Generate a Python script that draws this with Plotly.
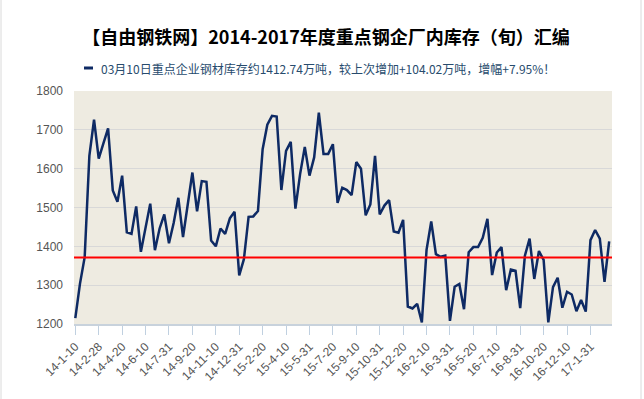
import calendar
import plotly.graph_objects as go

# ---- data -------------------------------------------------------------
# dekad (旬) dates from 2014-01-10 to 2017-03-10
dates = []
for yr in range(2014, 2018):
    for mo in range(1, 13):
        for d in (10, 20, calendar.monthrange(yr, mo)[1]):
            dates.append(f"{yr % 100}-{mo}-{d}")
dates = dates[:dates.index("17-3-10") + 1]

inventory = [
    1215, 1304, 1372, 1633, 1726, 1626, 1665, 1704, 1544, 1515,
    1582, 1436, 1432, 1503, 1386, 1450, 1510, 1390, 1446, 1482,
    1408, 1460, 1525, 1424, 1507, 1590, 1490, 1568, 1566, 1415,
    1400, 1446, 1432, 1472, 1489, 1325, 1367, 1476, 1477, 1491,
    1650, 1713, 1736, 1734, 1545, 1646, 1669, 1497, 1586, 1656,
    1582, 1629, 1744, 1638, 1638, 1663, 1512, 1551, 1545, 1532,
    1617, 1600, 1480, 1508, 1633, 1482, 1505, 1519, 1438, 1435,
    1468, 1245, 1240, 1252, 1204, 1391, 1464, 1380, 1373, 1376,
    1208, 1296, 1303, 1238, 1385, 1398, 1398, 1422, 1471, 1326,
    1384, 1398, 1287, 1340, 1337, 1241, 1376, 1420, 1316, 1388,
    1365, 1204, 1295, 1319, 1242, 1283, 1276, 1233, 1262, 1232,
    1416, 1442, 1420, 1308.72, 1412.74,
]
avg_level = 1371

tick_labels = [
    "14-1-10", "14-2-28", "14-4-20", "14-6-10", "14-7-31", "14-9-20",
    "14-11-10", "14-12-31", "15-2-20", "15-4-10", "15-5-31", "15-7-20",
    "15-9-10", "15-10-31", "15-12-20", "16-2-10", "16-3-31", "16-5-20",
    "16-7-10", "16-8-31", "16-10-20", "16-12-10", "17-1-31",
]
y_ticks = [1200, 1300, 1400, 1500, 1600, 1700, 1800]

title_text = "【自由钢铁网】2014-2017年度重点钢企厂内库存（旬）汇编"
legend_text = "03月10日重点企业钢材库存约1412.74万吨，较上次增加+104.02万吨，增幅+7.95%！"

# ---- figure -----------------------------------------------------------
W, H = 644, 399
L, R, T, B = 74, 612, 91, 324
pw, ph = R - L, B - T


def px(x):
    return (x - L) / pw


def py(y):
    return (B - y) / ph


LINE = "#0E2A64"
FONT = "Liberation Sans, Noto Sans CJK SC, sans-serif"

fig = go.Figure()
fig.add_trace(go.Scatter(
    x=dates, y=inventory, mode="lines",
    line=dict(color=LINE, width=2.5),
    name=legend_text, showlegend=False,
))

fig.add_shape(type="line", xref="paper", yref="y", x0=0, x1=1,
              y0=avg_level, y1=avg_level,
              line=dict(color="#FF0000", width=2))

# legend marker
fig.add_shape(type="line", xref="paper", yref="paper",
              x0=px(84), x1=px(93), y0=py(68), y1=py(68),
              line=dict(color=LINE, width=3))
# container side borders
for xb in (1, 641):
    fig.add_shape(type="line", xref="paper", yref="paper",
                  x0=px(xb), x1=px(xb), y0=py(0), y1=py(399),
                  line=dict(color="#DADADA", width=1))

fig.add_annotation(text=legend_text, xref="paper", yref="paper",
                   x=px(99), y=py(68), xanchor="left", yanchor="middle",
                   showarrow=False,
                   font=dict(family="Noto Sans CJK SC, sans-serif",
                             size=12, color="#274B6D"))

fig.update_layout(
    width=W, height=H,
    margin=dict(l=L, r=W - R, t=T, b=H - B, pad=0),
    paper_bgcolor="white",
    plot_bgcolor="#EEEBE1",
    title=dict(text=f"<b>{title_text}</b>", x=326 / W, xanchor="center",
               y=1 - 38 / H, yanchor="middle",
               font=dict(family="Noto Sans CJK SC, sans-serif", size=18,
                         color="#000000")),
    font=dict(family=FONT, size=12, color="#666666"),
)

idx_ticks = list(range(0, len(dates), 5))
fig.update_xaxes(
    type="category",
    range=[-0.28, 114.6],
    tickmode="array",
    tickvals=[dates[i] for i in idx_ticks],
    ticktext=tick_labels,
    tickangle=-45,
    ticks="outside", ticklen=9, tickcolor="#C0D0E0", tickwidth=1,
    showline=True, linecolor="#C8D2DC", linewidth=2,
    showgrid=False, zeroline=False, automargin=False,
    tickfont=dict(family=FONT, size=12, color="#555555"),
)
fig.update_yaxes(
    range=[1200, 1800],
    tickvals=y_ticks,
    showgrid=True, gridcolor="#D8D8D8", gridwidth=1,
    zeroline=False, showline=False, automargin=False,
    ticks="", ticklabelstandoff=10,
    tickfont=dict(family=FONT, size=12, color="#555555"),
)

fig.write_html(
    "out.html",
    config={"displayModeBar": False},
    post_script="document.body.style.margin='0';"
                "document.body.style.overflow='hidden';",
)
